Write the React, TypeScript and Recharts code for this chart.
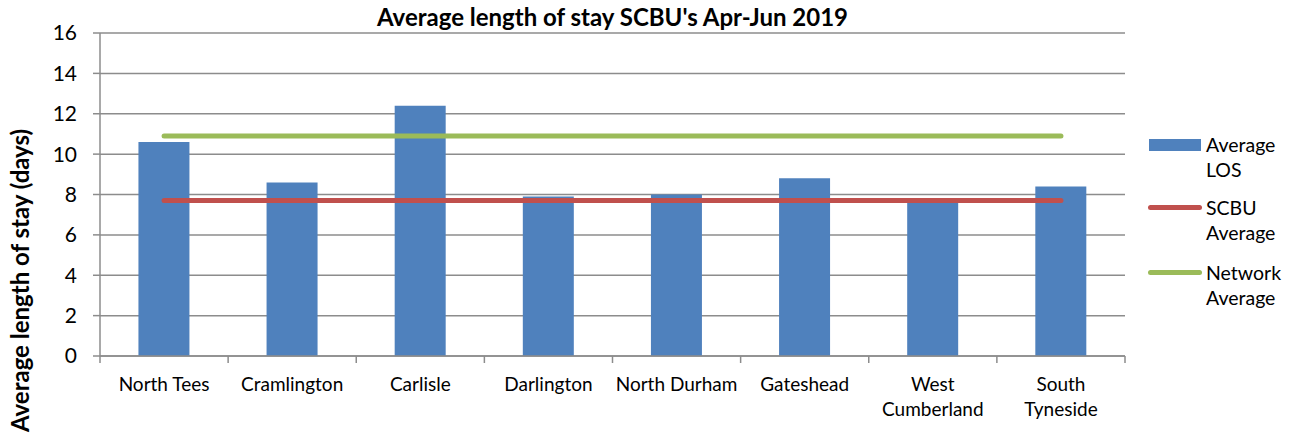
import React from "react";
import {
  ComposedChart,
  Bar,
  Line,
  XAxis,
  YAxis,
  CartesianGrid,
} from "recharts";

const units = [
  "North Tees",
  "Cramlington",
  "Carlisle",
  "Darlington",
  "North Durham",
  "Gateshead",
  "West\nCumberland",
  "South\nTyneside",
];
const averageLos = [10.6, 8.6, 12.4, 7.9, 8.0, 8.8, 7.7, 8.4];
const scbuAverage = [7.7, 7.7, 7.7, 7.7, 7.7, 7.7, 7.7, 7.7];
const networkAverage = [10.9, 10.9, 10.9, 10.9, 10.9, 10.9, 10.9, 10.9];
const yTicks = [0, 2, 4, 6, 8, 10, 12, 14, 16];

const data = units.map((unit, i) => ({
  unit,
  los: averageLos[i],
  scbu: scbuAverage[i],
  network: networkAverage[i],
}));

const FONT = "Lato, 'Open Sans', sans-serif";
const GRID = "#8c8c8c";
const BLUE = "#4f81bd";
const RED = "#c0504d";
const GREEN = "#9bbb59";

const CHART_W = 1293;
const PLOT_LEFT = 100;
const PLOT_RIGHT_MARGIN = 168;
const BAND = (CHART_W - PLOT_LEFT - PLOT_RIGHT_MARGIN) / units.length;

// category labels plus Excel-style tick marks on the band edges
const UnitTick = ({ x, y, payload, index }: any) => {
  const lines = String(payload.value).split("\n");
  const left = x - BAND / 2;
  return (
    <g>
      <line x1={left} x2={left} y1={y} y2={y + 7} stroke={GRID} strokeWidth={1.5} />
      {index === units.length - 1 && (
        <line x1={left + BAND} x2={left + BAND} y1={y} y2={y + 7} stroke={GRID} strokeWidth={1.5} />
      )}
      <text x={x} y={y} textAnchor="middle" fontFamily={FONT} fontSize={19} fill="#000">
        {lines.map((l, i) => (
          <tspan key={i} x={x} dy={i === 0 ? 35 : 25}>
            {l}
          </tspan>
        ))}
      </text>
    </g>
  );
};

const legendItems = [
  { lines: ["Average", "LOS"], color: BLUE, kind: "bar", top: 132 },
  { lines: ["SCBU", "Average"], color: RED, kind: "line", top: 195 },
  { lines: ["Network", "Average"], color: GREEN, kind: "line", top: 260 },
];

export default function App() {
  return (
    <div style={{ position: "relative", width: CHART_W, height: 436, background: "#fff" }}>
      <style>{`body{margin:0}`}</style>
      <div
        style={{
          position: "absolute",
          left: PLOT_LEFT,
          width: CHART_W - PLOT_LEFT - PLOT_RIGHT_MARGIN,
          top: 2,
          textAlign: "center",
          fontFamily: FONT,
          fontWeight: 700,
          fontSize: 24,
        }}
      >
        Average length of stay SCBU's Apr-Jun 2019
      </div>
      <ComposedChart
        width={CHART_W}
        height={436}
        data={data}
        margin={{ top: 33, right: PLOT_RIGHT_MARGIN, bottom: 0, left: 0 }}
        barCategoryGap="30%"
      >
        <CartesianGrid vertical={false} stroke={GRID} strokeWidth={1.5} />
        <XAxis
          dataKey="unit"
          height={80}
          stroke={GRID}
          strokeWidth={1.5}
          tickLine={false}
          tickSize={0}
          tickMargin={0}
          interval={0}
          tick={<UnitTick />}
        />
        <YAxis
          domain={[0, 16]}
          ticks={yTicks}
          width={PLOT_LEFT}
          stroke={GRID}
          strokeWidth={1.5}
          tickSize={7}
          tickMargin={16}
          tick={{ fontFamily: FONT, fontSize: 21, fill: "#000" }}
          label={{
            value: "Average length of stay (days)",
            angle: -90,
            position: "insideLeft",
            offset: 20,
            dy: 86,
            style: { fontFamily: FONT, fontWeight: 700, fontSize: 24, fill: "#000", textAnchor: "middle" },
          }}
        />
        <Bar dataKey="los" fill={BLUE} isAnimationActive={false} />
        <Line
          dataKey="scbu"
          stroke={RED}
          strokeWidth={5}
          strokeLinecap="round"
          dot={false}
          isAnimationActive={false}
        />
        <Line
          dataKey="network"
          stroke={GREEN}
          strokeWidth={5}
          strokeLinecap="round"
          dot={false}
          isAnimationActive={false}
        />
      </ComposedChart>
      {legendItems.map((item, i) => (
        <div key={i} style={{ position: "absolute", left: 1148, top: item.top }}>
          {item.kind === "bar" ? (
            <div style={{ position: "absolute", left: 1, top: 7, width: 52, height: 12, background: item.color }} />
          ) : (
            <div
              style={{
                position: "absolute",
                left: 0,
                top: 10,
                width: 54,
                height: 5,
                borderRadius: 3,
                background: item.color,
              }}
            />
          )}
          <div
            style={{
              position: "absolute",
              left: 58,
              top: 0,
              fontFamily: FONT,
              fontSize: 19.5,
              lineHeight: "25px",
              whiteSpace: "nowrap",
            }}
          >
            {item.lines.map((l, j) => (
              <div key={j}>{l}</div>
            ))}
          </div>
        </div>
      ))}
    </div>
  );
}
